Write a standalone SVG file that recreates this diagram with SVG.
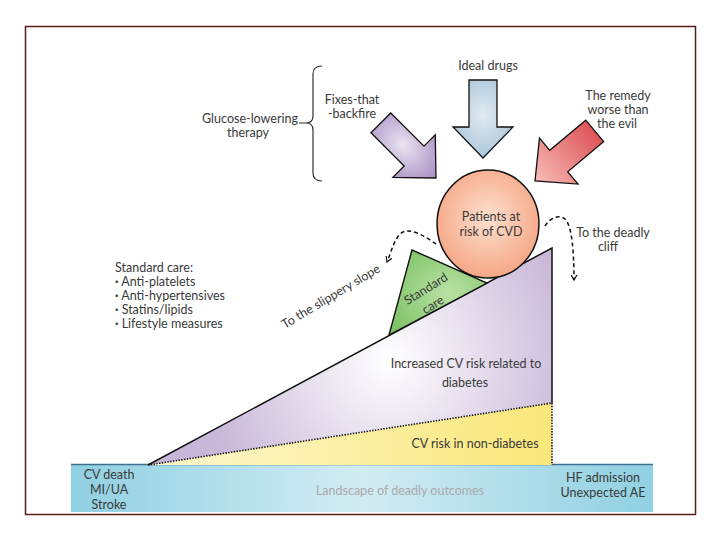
<svg xmlns="http://www.w3.org/2000/svg" width="720" height="540" viewBox="0 0 720 540">
<style>
text{font-family:Lato,"Open Sans","Liberation Sans",sans-serif;font-size:12.5px;fill:#3a3a3a}
.m{text-anchor:middle}
.b{font-weight:700}
.edge{fill:none;stroke:#111;stroke-width:1.5}
.dot{fill:none;stroke:#111;stroke-width:1.6;stroke-dasharray:1.4 1.4}
.dash{fill:none;stroke:#111;stroke-width:1.5;stroke-dasharray:4 3}
.arrowshape{stroke:#111;stroke-width:1.3;stroke-linejoin:miter}
</style>
<defs>
<linearGradient id="band" x1="0" y1="0" x2="1" y2="0">
<stop offset="0" stop-color="#8fd0e2"/><stop offset="0.5" stop-color="#d3ecf3"/><stop offset="1" stop-color="#8fd0e2"/>
</linearGradient>
<linearGradient id="yel" x1="0" y1="0" x2="1" y2="0">
<stop offset="0" stop-color="#fdf7cf"/><stop offset="1" stop-color="#f9e77a"/>
</linearGradient>
<radialGradient id="pur" gradientUnits="userSpaceOnUse" cx="390" cy="360" r="190">
<stop offset="0" stop-color="#ffffff"/><stop offset="1" stop-color="#c8b7d8"/>
</radialGradient>
<radialGradient id="grn" cx="0.6" cy="0.5" r="0.7">
<stop offset="0" stop-color="#b9e2a3"/><stop offset="1" stop-color="#7cc166"/>
</radialGradient>
<radialGradient id="peach" cx="0.5" cy="0.45" r="0.6">
<stop offset="0" stop-color="#fde0cf"/><stop offset="1" stop-color="#f4a27f"/>
</radialGradient>
<radialGradient id="bluearr" cx="0.45" cy="0.5" r="0.7">
<stop offset="0" stop-color="#e1eaf1"/><stop offset="1" stop-color="#9ebdd5"/>
</radialGradient>
<radialGradient id="purarr" cx="0.4" cy="0.5" r="0.7">
<stop offset="0" stop-color="#ece4f3"/><stop offset="1" stop-color="#9a80b8"/>
</radialGradient>
<linearGradient id="redarr" x1="0" y1="0" x2="1" y2="0">
<stop offset="0" stop-color="#de5458"/><stop offset="1" stop-color="#f7bcb6"/>
</linearGradient>
<path id="arr" d="M-78,-14 L-31,-14 L-31,-30 L0,0 L-31,30 L-31,14 L-78,14 Z"/>
<marker id="vh" viewBox="0 0 8 8" refX="6" refY="4" markerWidth="7" markerHeight="7" markerUnits="userSpaceOnUse" orient="auto">
<path d="M0,0.5 L6,4 L0,7.5" fill="none" stroke="#111" stroke-width="1.4"/>
</marker>
</defs>
<rect x="25.5" y="26.5" width="670" height="488" fill="#fff" stroke="#5a1c1c" stroke-width="1.5"/>

<g id="landscape">
<rect x="71" y="464" width="582" height="48" fill="url(#band)"/>
<line x1="71" y1="464.5" x2="653" y2="464.5" stroke="#3f6f8e" stroke-width="1.5"/>
<text class="m" x="109" y="479">CV death</text>
<text class="m" x="109" y="494">MI/UA</text>
<text class="m" x="109" y="509">Stroke</text>
<text class="m" x="400" y="495" style="fill:#a9a9a9">Landscape of deadly outcomes</text>
<text class="m" x="603" y="482">HF admission</text>
<text class="m" x="603" y="497">Unexpected AE</text>
</g>

<g id="nondiabetes">
<polygon points="148,465 552,403 552,465" fill="url(#yel)"/>
<text class="m" x="475" y="448">CV risk in non-diabetes</text>
</g>

<g id="diabetes">
<polygon points="148,465 552,248 552,403" fill="url(#pur)"/>
<text class="m" x="466" y="368">Increased CV risk related to</text>
<text class="m" x="465" y="387">diabetes</text>
</g>

<g id="slope-edges">
<polyline class="edge" points="148,465 552,248 552,403"/>
<polyline class="dot" points="148,465 552,403 552,465"/>
</g>

<g id="standard-care">
<polygon points="389,335 412,250 487,283" fill="url(#grn)" stroke="#111" stroke-width="1.4" stroke-linejoin="miter"/>
<text class="m" transform="translate(426,289) rotate(-32)" y="4">Standard</text>
<text class="m" transform="translate(433,305) rotate(-32)" y="4">care</text>
</g>

<g id="patients">
<ellipse cx="488" cy="224" rx="51" ry="54" fill="url(#peach)" stroke="#111" stroke-width="1.5"/>
<text class="m" x="491" y="221">Patients at</text>
<text class="m" x="491" y="236">risk of CVD</text>
</g>

<g id="ideal-drugs">
<use href="#arr" transform="translate(483,158) rotate(90)" fill="url(#bluearr)" class="arrowshape"/>
<text class="m" x="488" y="70">Ideal drugs</text>
</g>

<g id="fixes">
<use href="#arr" transform="translate(436,178) rotate(45)" fill="url(#purarr)" class="arrowshape"/>
<text class="m" x="352" y="104">Fixes-that</text>
<text class="m" x="352" y="118">-backfire</text>
</g>

<g id="remedy">
<use href="#arr" transform="translate(535,181) rotate(140)" fill="url(#redarr)" class="arrowshape"/>
<text class="m" x="618" y="100">The remedy</text>
<text class="m" x="618" y="114">worse than</text>
<text class="m" x="617" y="128">the evil</text>
</g>

<g id="glucose">
<path d="M322,66 Q313,66 313,74 L313,116 Q313,123 306,123 Q313,123 313,130 L313,173 Q313,181 322,181 M299,123 L306,123" fill="none" stroke="#333" stroke-width="1.2"/>
<text class="m" x="250" y="123">Glucose-lowering</text>
<text class="m" x="248" y="137">therapy</text>
</g>

<g id="standard-list">
<text x="115" y="272">Standard care:</text>
<text x="115" y="286"><tspan class="b">·</tspan> Anti-platelets</text>
<text x="115" y="300"><tspan class="b">·</tspan> Anti-hypertensives</text>
<text x="115" y="314"><tspan class="b">·</tspan> Statins/lipids</text>
<text x="115" y="328"><tspan class="b">·</tspan> Lifestyle measures</text>
</g>

<g id="connectors">
<path class="dash" d="M436,244 C426,237 412,228 403,232 C395,236 392,250 387,262" marker-end="url(#vh)"/>
<path class="dash" d="M545,226 C550,218 560,213 566,220 C572,228 574,252 574,280" marker-end="url(#vh)"/>
</g>

<g id="labels">
<text class="m" transform="translate(333,300) rotate(-31)">To the slippery slope</text>
<text class="m" x="613" y="237">To the deadly</text>
<text class="m" x="608" y="251">cliff</text>
</g>
</svg>
